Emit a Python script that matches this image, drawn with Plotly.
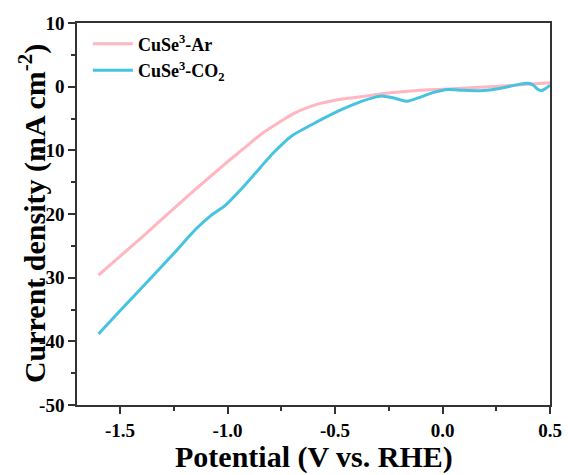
import plotly.graph_objects as go

ar_x = [-1.6, -1.4, -1.172, -1.0, -0.931, -0.845, -0.75, -0.691, -0.6, -0.535, -0.46,
        -0.38, -0.287, -0.2, -0.116, 0.0, 0.178, 0.35, 0.5]
ar_y = [-29.6, -23.7, -16.8, -11.8, -9.9, -7.5, -5.4, -4.2, -2.95, -2.36, -1.9,
        -1.57, -1.15, -0.85, -0.6, -0.4, -0.1, 0.25, 0.62]

co2_x = [-1.6, -1.5, -1.366, -1.25, -1.148, -1.079, -1.009, -0.939, -0.845, -0.784,
         -0.7, -0.582, -0.473, -0.38, -0.33, -0.287, -0.23, -0.165,
         -0.1, -0.04, 0.024, 0.09, 0.178, 0.25, 0.318, 0.36, 0.397, 0.42, 0.445, 0.46, 0.48, 0.5]
co2_y = [-38.85, -35.2, -30.4, -26.2, -22.4, -20.3, -18.6, -16.2, -12.6, -10.3,
         -7.7, -5.5, -3.66, -2.36, -1.8, -1.45, -1.75, -2.3,
         -1.6, -0.9, -0.45, -0.55, -0.63, -0.35, 0.1, 0.4, 0.53, 0.3, -0.45, -0.63, -0.3, 0.26]

x_ticks = [-1.5, -1.0, -0.5, 0.0, 0.5]
x_labels = ["-1.5", "-1.0", "-0.5", "0.0", "0.5"]
y_ticks = [10, 0, -10, -20, -30, -40, -50]
y_labels = ["10", "0", "-10", "-20", "-30", "-40", "-50"]

FONT = "Liberation Serif"

fig = go.Figure()
fig.add_trace(go.Scatter(x=ar_x, y=ar_y, mode="lines",
                         name="<b>CuSe<sup>3</sup>-Ar</b>",
                         line=dict(color="#FFB6C1", width=3, shape="spline", smoothing=0.6)))
fig.add_trace(go.Scatter(x=co2_x, y=co2_y, mode="lines",
                         name="<b>CuSe<sup>3</sup>-CO<sub>2</sub></b>",
                         line=dict(color="#45C3E0", width=3, shape="spline", smoothing=0.6)))

axis_common = dict(showline=True, linecolor="#333333", linewidth=1.5, mirror=True,
                   ticks="outside", tickcolor="#333333", tickwidth=1.5, ticklen=7,
                   showgrid=False, zeroline=False, automargin=False,
                   tickfont=dict(family=FONT, size=19, color="black", weight="bold"))

fig.update_xaxes(range=[-1.7, 0.5], tickvals=x_ticks, ticktext=x_labels,
                 minor=dict(dtick=0.25, ticks="outside", ticklen=4, tickcolor="#333333", tickwidth=1.5),
                 **axis_common)
fig.update_yaxes(range=[-50, 10], tickvals=y_ticks, ticktext=y_labels,
                 minor=dict(dtick=5, ticks="outside", ticklen=4, tickcolor="#333333", tickwidth=1.5),
                 **axis_common)

fig.add_annotation(text="<b>Potential (V vs. RHE)</b>", xref="paper", yref="paper",
                   x=0.5, y=-0.137, xanchor="center", yanchor="middle", showarrow=False,
                   font=dict(family=FONT, size=30, color="black"))
fig.add_annotation(text="<b>Current density (mA cm<sup>-2</sup>)</b>", xref="paper", yref="paper",
                   x=-0.095, y=0.5, xanchor="center", yanchor="middle", showarrow=False,
                   textangle=-90, font=dict(family=FONT, size=30, color="black"))

fig.update_layout(
    width=568, height=475,
    margin=dict(l=77, r=18, t=23, b=70, autoexpand=False),
    plot_bgcolor="white", paper_bgcolor="white",
    showlegend=True,
    legend=dict(x=0.023, y=0.993, xanchor="left", yanchor="top", bgcolor="rgba(0,0,0,0)",
                font=dict(family=FONT, size=18, color="black"), tracegroupgap=0,
                itemwidth=40),
)

fig.write_html("out.html", config={"displayModeBar": False, "responsive": False},
               post_script="document.body.style.margin='0';document.body.style.overflow='hidden';")
